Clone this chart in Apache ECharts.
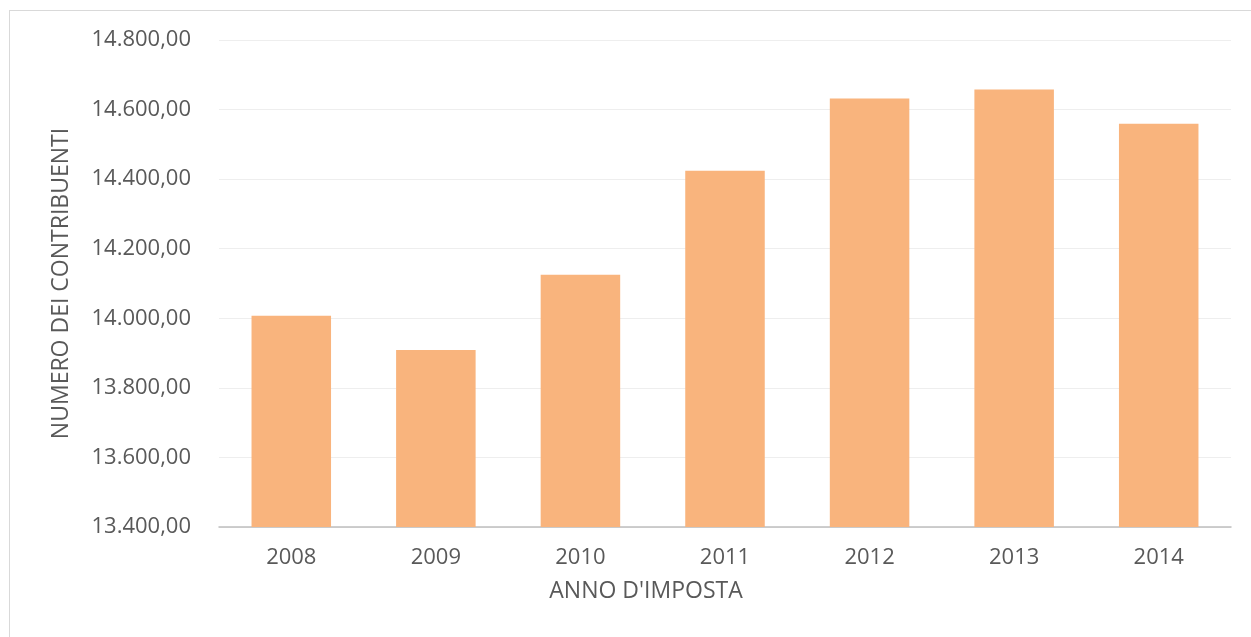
<!DOCTYPE html>
<html>
<head>
<meta charset="utf-8">
<script src="https://cdn.jsdelivr.net/npm/echarts@6/dist/echarts.min.js"></script>
<style>
  html, body { margin: 0; padding: 0; background: #ffffff; overflow: hidden; }
  #frame { position: absolute; left: 9px; top: 10px; width: 1260px; height: 650px; border: 1px solid #d9d9d9; box-sizing: border-box; }
  #chart { position: absolute; left: 0; top: 0; width: 1251px; height: 637px; }
</style>
</head>
<body>
<div id="frame"></div>
<div id="chart"></div>
<script>
// Taxpayers per tax year
const years = ['2008', '2009', '2010', '2011', '2012', '2013', '2014'];
const taxpayers = [14007, 13909, 14125, 14424, 14632, 14658, 14559];

// Italian number format: thousands with '.', decimals with ','
function fmtIt(v) {
  const parts = v.toFixed(2).split('.');
  parts[0] = parts[0].replace(/\B(?=(\d{3})+(?!\d))/g, '.');
  return parts[0] + ',' + parts[1];
}

const font = '"Open Sans", "DejaVu Sans", sans-serif';
const chart = echarts.init(document.getElementById('chart'));
chart.setOption({
  animation: false,
  grid: { left: 219, right: 20, top: 40, bottom: 110, containLabel: false },
  xAxis: {
    type: 'category',
    data: years,
    name: "ANNO D'IMPOSTA",
    nameLocation: 'middle',
    nameGap: 53,
    // the axis title sits a little left of the plot centre
    nameTextStyle: { color: '#595959', fontSize: 23, fontFamily: font, padding: [0, 158, 0, 0] },
    axisLine: { lineStyle: { color: '#bfbfbf', width: 1.5 } },
    axisTick: { show: false },
    axisLabel: { color: '#595959', fontSize: 22, fontFamily: font, margin: 20 }
  },
  yAxis: {
    type: 'value',
    min: 13400,
    max: 14800,
    interval: 200,
    name: 'NUMERO DEI CONTRIBUENTI',
    nameLocation: 'middle',
    nameRotate: 90,
    nameGap: 146,
    nameTextStyle: { color: '#595959', fontSize: 23, fontFamily: font },
    axisLine: { show: false },
    axisTick: { show: false },
    splitLine: { lineStyle: { color: '#eeeeee', width: 1 } },
    axisLabel: { color: '#595959', fontSize: 22, fontFamily: font, margin: 28, formatter: fmtIt }
  },
  series: [{
    type: 'bar',
    data: taxpayers,
    barWidth: '55%',
    itemStyle: { color: '#f9b47d' }
  }]
});
</script>
</body>
</html>
